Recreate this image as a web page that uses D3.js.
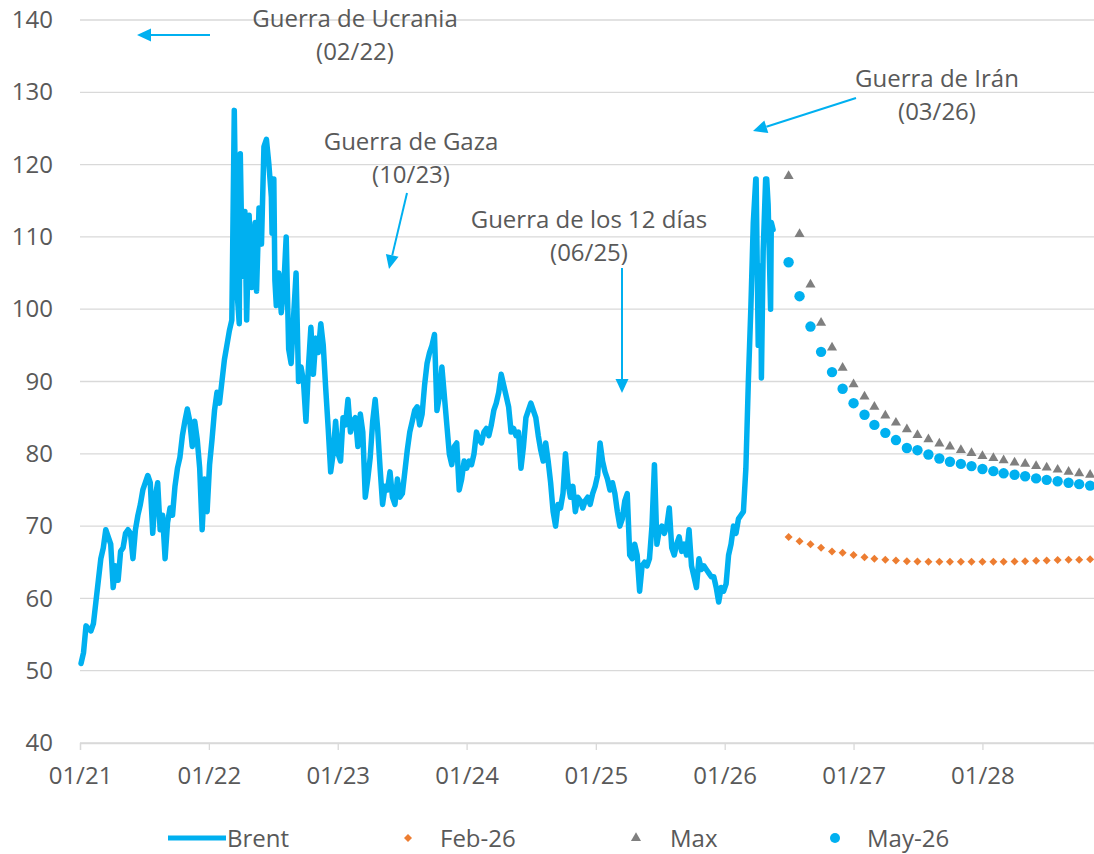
<!DOCTYPE html>
<html><head><meta charset="utf-8">
<script src="https://cdn.jsdelivr.net/npm/d3@7"></script>
<style>
body{margin:0;background:#fff}
text{font-family:"Open Sans","Noto Sans",sans-serif;fill:#595959}
</style>
</head><body>
<svg id="chart" width="1094" height="854"></svg>
<script>
// ---------- DATA ----------
const brentStart = "2021-01-04"; // weekly observations (one per week)
const brent = [
 51,52.5,56.2,55.8,55.5,56.5,59.5,62.5,65.5,67,
 69.5,68.5,67.5,61.5,64.5,62.5,66.5,67,69,69.5,
 69,65.5,69.5,71.5,73,75,76,77,76,69,
 74,76,69.5,71.5,65.5,70.5,72.5,71.5,75.5,78,
 79.5,82.5,84.5,86.2,84.5,81,84.5,82,78,69.5,
 76.5,72,78.5,82,86,88.5,87,90,93,95,
 97,98.5,127.5,103,98,110,104.5,98.5,113,103,
 110,102.5,114,109,122.5,123.5,120,115.5,118,100.5,
 105,99.5,103,110,94.5,92.5,99,105,90,92,
 90,84.5,92,97.5,91,96,94,98,95,89,
 83.5,77.5,80,84.5,80,79,85,84,87.5,83,
 84.5,85,81,85.5,83,74,76.5,79.5,84.5,87.5,
 83.5,78,73,75.5,75,77.5,74,73,76.5,74,
 74.5,77.5,80.5,83,84.5,86,86.5,84,85.5,89.5,
 92.5,94,95,96.5,86,88,92,88,84,80,
 78.5,81,81.5,75,76.5,79,78,79,78.5,80,
 83,82,81.5,83,83.5,82.5,84,86,87,88.5,
 91,89.5,88,86.5,83,83.5,82.5,83,78,81,
 85,86,87,86,85,82.5,80.5,79,81.5,79,
 76,72,70,73,72.5,74.5,80,76,74,75.5,
 72,74,73.5,72.5,73.5,74,73,74.5,75.5,77,
 81.5,79,77.5,76.5,75,76,74.5,72,70,71,
 73.5,74.5,66,65.5,67.5,66,61,64.5,65,64.5,
 65.5,70,78.5,67.5,69.5,70,69,70,72.5,67,
 66,67.5,68.5,66.5,67.5,66,69.5,64.5,63,61.5,
 65.5,64,64.5,64,63.5,63,63,61.5,59.5,61.5,
 61,62,66,67.5,70,69,71,71.5,72,78,
 90,100,112,118,95,106,108,118,114.5,100,111
];
// additional mid-week observations on volatile days
const brentExtraDates = ["2022-03-31","2022-04-13","2022-05-12","2022-06-29","2022-07-07","2026-03-31","2026-04-15","2026-04-30","2026-05-13"];
const brentExtraValues = [121.5,113.5,112,110.5,104,118,90.5,118,112];

const forecastStart = "2026-07-01"; // monthly forecasts
const forecastEnd = "2028-12-01";
const feb26 = [68.5,67.9,67.5,67.0,66.5,66.3,66.0,65.7,65.5,65.35,65.25,65.15,65.1,65.07,65.07,65.07,65.07,65.07,65.07,65.07,65.07,65.1,65.15,65.2,65.25,65.3,65.35,65.35,65.4];
const maxSeries = [118.4,110.4,103.4,98.1,94.7,91.9,89.6,87.9,86.5,85.3,84.3,83.4,82.6,82.0,81.4,81.0,80.5,80.1,79.7,79.4,79.1,78.8,78.6,78.3,78.1,77.8,77.5,77.3,77.1];
const may26 = [106.5,101.8,97.6,94.1,91.3,89.0,87.0,85.4,84.0,82.9,81.9,80.8,80.5,79.9,79.35,78.9,78.6,78.3,77.9,77.6,77.3,77.1,76.9,76.6,76.4,76.2,76.0,75.8,75.6];
const yTicks = [40,50,60,70,80,90,100,110,120,130,140];
const xTickDates = ["2021-01-01","2022-01-01","2023-01-01","2024-01-01","2025-01-01","2026-01-01","2027-01-01","2028-01-01"];
const seriesNames = ["Brent","Feb-26","Max","May-26"];
const annotationTexts = [
  ["Guerra de Ucrania","(02/22)"],
  ["Guerra de Gaza","(10/23)"],
  ["Guerra de los 12 días","(06/25)"],
  ["Guerra de Irán","(03/26)"]
];

// ---------- STYLE ----------
const BLUE="#00B0F0", ORANGE="#ED7D31", GREY="#7F7F7F", GRID="#D9D9D9";
const W=1094,H=854;
const svg=d3.select("#chart");
const parse=d3.utcParse("%Y-%m-%d");

const x=d3.scaleUtc().domain([parse("2021-01-01"),parse("2028-11-12")]).range([80,1094]);
const y=d3.scaleLinear().domain([40,140]).range([743,20]);

// grid
svg.append("g").selectAll("line").data(yTicks).join("line")
  .attr("x1",80).attr("x2",W).attr("y1",d=>y(d)).attr("y2",d=>y(d))
  .attr("stroke",GRID).attr("stroke-width",1.3);

// y axis labels
const ya=svg.append("g").attr("transform","translate(80,0)")
  .call(d3.axisLeft(y).tickValues(yTicks).tickSize(0).tickPadding(27).tickFormat(d3.format("d")));
ya.select(".domain").remove();
ya.selectAll("text").attr("font-size",24).attr("fill","#595959").style("font-family",'"Open Sans",sans-serif');

// x axis
const xa=svg.append("g").attr("transform","translate(0,743)")
  .call(d3.axisBottom(x).tickValues(xTickDates.map(parse)).tickSize(7).tickPadding(17).tickFormat(d3.utcFormat("%m/%y")));
xa.select(".domain").attr("stroke",GRID).attr("stroke-width",1.3);
xa.selectAll(".tick line").attr("stroke",GRID).attr("stroke-width",1.3);
xa.selectAll("text").attr("font-size",24).attr("fill","#595959").style("font-family",'"Open Sans",sans-serif');

// Brent line
const b0=parse(brentStart);
const brentData=brent.map((v,i)=>({date:d3.utcDay.offset(b0,7*i),v}))
  .concat(brentExtraDates.map((d,i)=>({date:parse(d),v:brentExtraValues[i]})))
  .sort((a,b)=>a.date-b.date);
svg.append("path").datum(brentData)
  .attr("d",d3.line().x(d=>x(d.date)).y(d=>y(d.v)))
  .attr("fill","none").attr("stroke",BLUE).attr("stroke-width",5.5)
  .attr("stroke-linejoin","round").attr("stroke-linecap","round");

// forecasts
const months=d3.utcMonth.range(parse(forecastStart),parse(forecastEnd));
const mk=(arr)=>arr.map((v,i)=>({date:months[i],v}));
svg.append("g").selectAll("path").data(mk(feb26)).join("path")
  .attr("d",d3.symbol(d3.symbolSquare,32)())
  .attr("transform",d=>`translate(${x(d.date)},${y(d.v)}) rotate(45)`).attr("fill",ORANGE);
svg.append("g").selectAll("path").data(mk(maxSeries)).join("path")
  .attr("d",d3.symbol(d3.symbolTriangle,44)())
  .attr("transform",d=>`translate(${x(d.date)},${y(d.v)})`).attr("fill",GREY);
svg.append("g").selectAll("circle").data(mk(may26)).join("circle")
  .attr("cx",d=>x(d.date)).attr("cy",d=>y(d.v)).attr("r",5.2).attr("fill",BLUE);

// annotations
const annPos=[[355,27],[411,150],[589,228],[937,87]];
annotationTexts.forEach((lines,k)=>{
  const t=svg.append("text").attr("text-anchor","middle").attr("font-size",24);
  lines.forEach((s,j)=>t.append("tspan").attr("x",annPos[k][0]).attr("y",annPos[k][1]+33*j).text(s));
});
function arrow(x1,y1,x2,y2){
  const a=Math.atan2(y2-y1,x2-x1), L=14, Wd=6.5;
  const bx=x2-L*Math.cos(a), by=y2-L*Math.sin(a);
  svg.append("line").attr("x1",x1).attr("y1",y1).attr("x2",bx).attr("y2",by)
    .attr("stroke",BLUE).attr("stroke-width",2);
  const px=-Math.sin(a), py=Math.cos(a);
  svg.append("path").attr("d",`M${x2},${y2}L${bx+px*Wd},${by+py*Wd}L${bx-px*Wd},${by-py*Wd}Z`).attr("fill",BLUE);
}
arrow(210,35,137,35);
arrow(407,193,389,269);
arrow(622,268,622,393);
arrow(856,98,753,131);

// legend
const ly=838;
svg.append("line").attr("x1",168).attr("x2",226).attr("y1",ly).attr("y2",ly).attr("stroke",BLUE).attr("stroke-width",5);
svg.append("path").attr("d",d3.symbol(d3.symbolSquare,32)()).attr("transform",`translate(408,${ly}) rotate(45)`).attr("fill",ORANGE);
svg.append("path").attr("d",d3.symbol(d3.symbolTriangle,44)()).attr("transform",`translate(636,${ly})`).attr("fill",GREY);
svg.append("circle").attr("cx",835).attr("cy",ly).attr("r",5).attr("fill",BLUE);
const lx=[227,440,670,867];
seriesNames.forEach((s,i)=>svg.append("text").attr("x",lx[i]).attr("y",ly).attr("dy","0.36em").attr("font-size",24).text(s));
</script>
</body></html>
